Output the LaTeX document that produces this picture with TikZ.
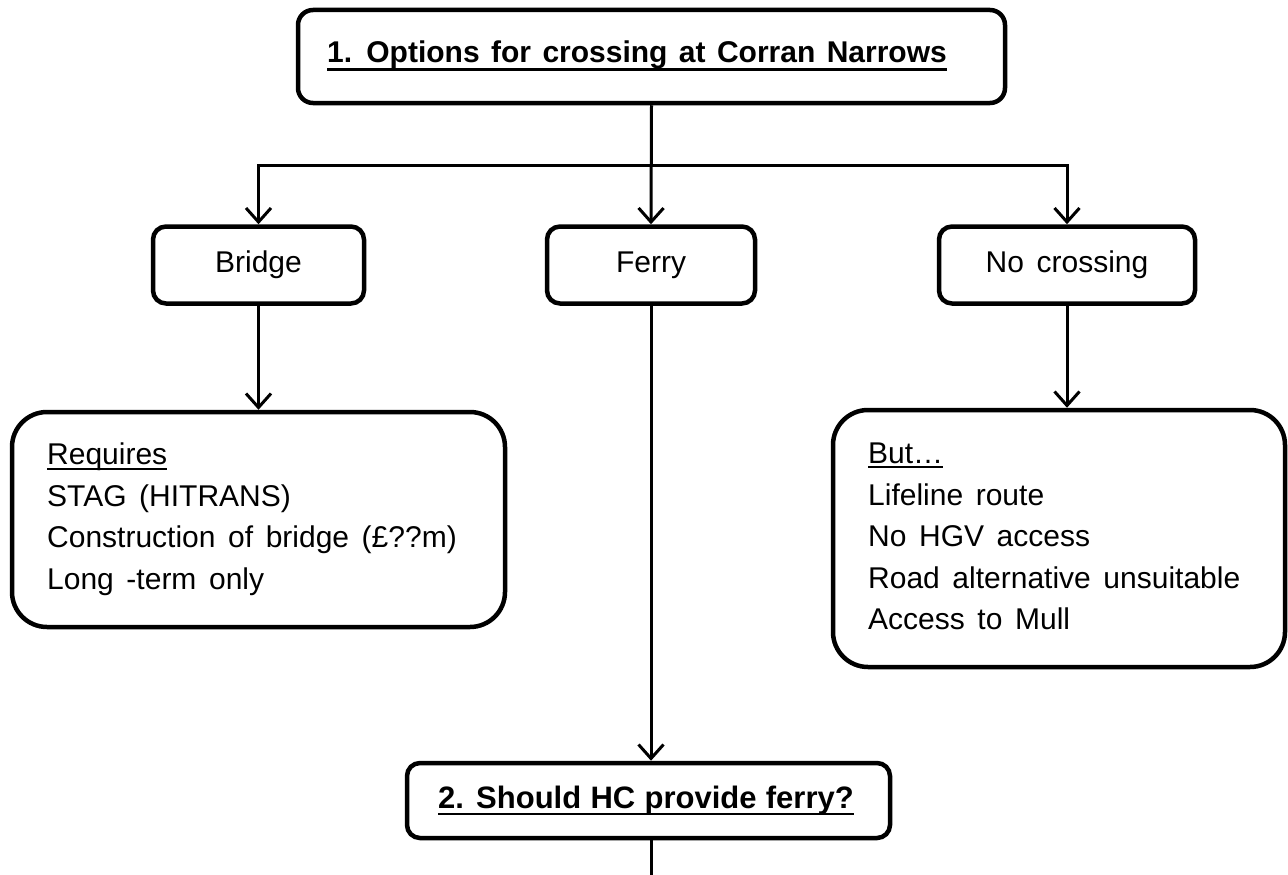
\documentclass[tikz,border=0pt]{standalone}
\usepackage{fontspec}
\setmainfont{Liberation Sans}
\usetikzlibrary{arrows.meta}
\newcommand{\myul}[3]{\setbox0\hbox{#3}\rlap{\rule[-#1]{\wd0}{#2}}\box0}
\newcommand{\widesp}[1]{\spaceskip=#1\relax}
\begin{document}
\begin{tikzpicture}[x=1pt,y=-1pt,
  box/.style={draw, line width=4.5pt, rounded corners=13pt, inner sep=0pt},
  conn/.style={line width=3pt},
  arr/.style={conn, -{Straight Barb[length=14pt,width=25pt]}},
  txt/.style={font={\fontsize{30}{41.5}\selectfont\widesp{0.42em}}},
  ttl/.style={font={\bfseries\fontsize{30}{34}\selectfont\widesp{0.38em}}, inner sep=0pt}]
\fill[white] (0,0) rectangle (1288,875);
\useasboundingbox (0,0) rectangle (1288,875);
% boxes
\node[box, minimum width=707pt, minimum height=93pt, rounded corners=15pt] (title) at (651.5,56.5) {};
\node[ttl, anchor=base west] (titletext) at (327,63) {\myul{8pt}{2.5pt}{1. Options for crossing at Corran Narrows}};
\node[box, txt, minimum width=211pt, minimum height=77pt, text height=21pt, text depth=6pt] (bridge) at (258.5,265) {Bridge};
\node[box, txt, minimum width=208pt, minimum height=77pt, text height=21pt, text depth=6pt] (ferry) at (651,265) {Ferry};
\node[box, txt, minimum width=256pt, minimum height=77pt, text height=21pt, text depth=6pt] (nocross) at (1067,265) {No crossing};
\node[box, rounded corners=35pt, minimum width=493pt, minimum height=215pt] (req) at (258.5,519.5) {};
\node[txt, align=left, anchor=north west, inner sep=0pt] (reqtext) at (47,443)
  {\myul{5pt}{1.5pt}{Requires}\\STAG (HITRANS)\\Construction of bridge (£??m)\\Long -term only};
\node[box, rounded corners=35pt, minimum width=452pt, minimum height=257pt] (but) at (1059,538.5) {};
\node[txt, align=left, anchor=north west, inner sep=0pt] (buttext) at (868,443)
  {\myul{4pt}{1.5pt}{But…}\\Lifeline route\\No HGV access\\Road alternative unsuitable\\Access to Mull};
\node[box, minimum width=483pt, minimum height=75pt] (q2) at (648.5,800.5) {};
\node[ttl, anchor=base west, font={\bfseries\fontsize{31}{34}\selectfont\widesp{0.3em}}] (q2text) at (438,808) {\myul{7pt}{2.5pt}{2. Should HC provide ferry?}};
% connectors
\coordinate (hub) at (652,165);
\coordinate (bottom) at (651,880);
\draw[arr] (title.south) -- (ferry.north);
\draw[arr] (hub) -| (bridge.north);
\draw[arr] (hub) -| (nocross.north);
\draw[arr] (bridge.south) -- (req.north);
\draw[arr] (nocross.south) -- (nocross.south |- but.north);
\draw[arr] (ferry.south) -- (ferry.south |- q2.north);
\draw[conn] (bottom |- q2.south) -- (bottom);
\end{tikzpicture}
\end{document}
